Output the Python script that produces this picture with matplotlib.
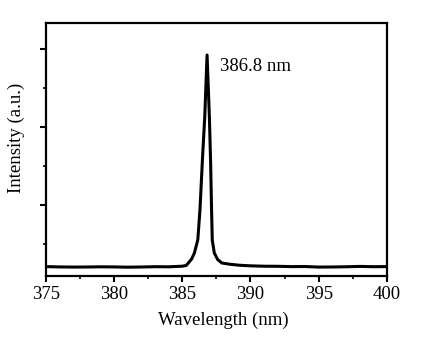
import matplotlib
matplotlib.use("Agg")
import matplotlib.pyplot as plt
from matplotlib.ticker import MultipleLocator, NullFormatter

# Data
wavelength = [375.0, 376.0, 377.0, 378.0, 379.0, 380.0, 381.0, 382.0, 383.0, 384.0,
              385.0, 385.3, 385.45, 385.7, 385.89, 386.14, 386.30, 386.49, 386.65, 386.82,
              386.99, 387.08, 387.15, 387.20, 387.35, 387.6, 387.9, 388.5, 389.2, 390.0,
              391.0, 392.0, 393.0, 394.0, 395.0, 396.0, 397.0, 398.0, 399.0, 400.0]
intensity = [420, 412, 408, 410, 415, 412, 405, 410, 418, 415,
             430, 450, 513, 620, 769, 1103, 1872, 3231, 4256, 5846,
             4256, 3100, 1872, 1103, 769, 600, 513, 480, 455, 440,
             430, 428, 420, 422, 408, 410, 416, 425, 418, 420]

peak_label = "386.8 nm"
peak_label_pos = (387.77, 5540)

x_ticks = [375, 380, 385, 390, 395, 400]

fig = plt.figure(figsize=(4.33, 3.52), dpi=100)
ax = fig.add_axes([0.1055, 0.2159, 0.7883, 0.7188])

ax.plot(wavelength, intensity, color="black", lw=2.2, solid_joinstyle="round")

ax.set_xlim(375, 400)
ax.set_ylim(179, 6667)
ax.set_xticks(x_ticks)
ax.xaxis.set_minor_locator(MultipleLocator(2.5))
ax.yaxis.set_major_locator(MultipleLocator(2000))
ax.yaxis.set_minor_locator(MultipleLocator(1000))
ax.yaxis.set_major_formatter(NullFormatter())
ax.yaxis.set_minor_formatter(NullFormatter())

serif = "Liberation Serif"
for lab in ax.get_xticklabels():
    lab.set_fontfamily(serif)
    lab.set_fontsize(13.5)

ax.tick_params(axis="both", which="major", direction="out", length=4, width=1.5, pad=3.5)
ax.tick_params(axis="both", which="minor", direction="out", length=2.5, width=1.2)
ax.tick_params(top=False, right=False, which="both")

for s in ax.spines.values():
    s.set_linewidth(1.6)

ax.set_xlabel("Wavelength (nm)", fontfamily=serif, fontsize=13.5)
ax.xaxis.set_label_coords(0.52, -0.14)
ax.set_ylabel("Intensity (a.u.)", fontfamily=serif, fontsize=13.5)
ax.yaxis.set_label_coords(-0.06, 0.545)

ax.text(peak_label_pos[0], peak_label_pos[1], peak_label, fontfamily=serif,
        fontsize=13.5, ha="left", va="center")

fig.savefig("out.png", dpi=100)
